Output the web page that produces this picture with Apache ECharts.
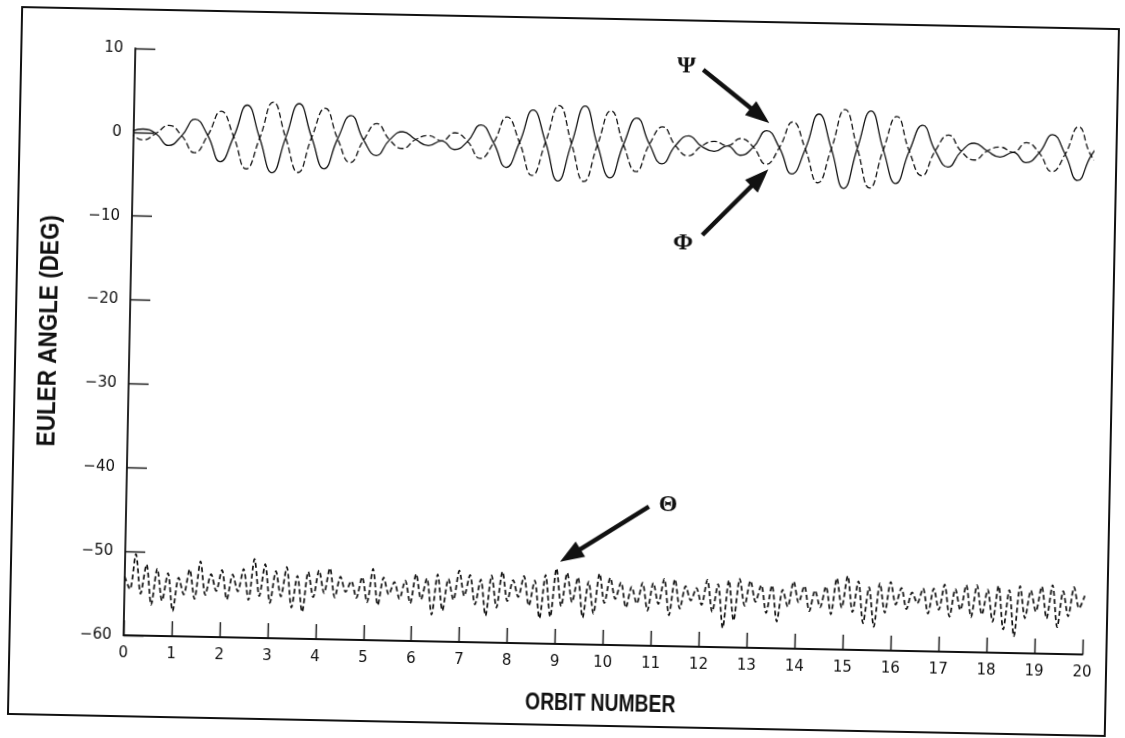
<!DOCTYPE html>
<html><head><meta charset="utf-8">
<script src="https://cdn.jsdelivr.net/npm/echarts@6/dist/echarts.min.js"></script>
<style>
html,body{margin:0;padding:0;background:#fff;overflow:hidden}
#wrap{width:1125px;height:738px;transform:rotate(1.15deg);transform-origin:50% 50%}
#chart{width:1125px;height:738px}
</style></head><body><div id="wrap"><div id="chart"></div></div>
<script>
// ---- data ----
const orbitStart = -0.08;  // orbit of first Psi/Phi reading
const orbitStep = 0.271;   // spacing (orbits) of the Psi/Phi readings
const phiVals = [0.0,0.4,-0.1,-1.5,-0.3,1.7,-0.2,-3.3,-0.3,3.5,-0.4,-4.5,-0.3,3.8,-0.2,-3.9,-0.3,2.5,-0.4,-2.2,-0.3,0.7,-0.2,-0.9,-0.3,
 -1.3,-0.3,1.7,-0.4,-3.3,-0.3,3.6,-0.2,-4.8,-0.3,4.2,-0.4,-4.3,-0.3,2.9,-0.2,-2.5,-0.3,0.9,-0.3,-0.9,-0.2,
 -1.3,-0.3,1.7,-0.3,-3.4,-0.4,3.8,-0.3,-5.0,-0.2,4.3,-0.3,-4.3,-0.4,2.7,-0.3,-2.2,-0.3,0.7,-0.2,-0.9,-0.3,
 -1.5,-0.3,1.9,-0.4,-3.5,-0.5,1.5];
const psiVals = [0.0,-0.9,-0.1,0.9,-0.3,-2.3,-0.2,2.7,-0.3,-4.1,-0.4,3.9,-0.3,-4.4,-0.2,3.3,-0.3,-3.1,-0.4,1.6,-0.3,-1.3,-0.2,0.3,-0.3,
 0.7,-0.3,-2.3,-0.4,2.7,-0.3,-4.2,-0.2,4.2,-0.3,-4.8,-0.4,3.7,-0.3,-3.5,-0.2,1.9,-0.3,-1.5,-0.3,0.3,-0.2,
 0.7,-0.3,-2.3,-0.3,2.8,-0.4,-4.4,-0.3,4.4,-0.2,-4.9,-0.3,3.7,-0.4,-3.3,-0.3,1.6,-0.3,-1.3,-0.2,0.3,-0.3,
 0.9,-0.3,-2.5,-0.4,2.9,-0.5,-2.0];
const thetaStep = 0.1125;  // spacing (orbits) of the Theta readings
const thetaVals = [-53.0,-54.5,-50.3,-55.0,-51.5,-56.3,-52.0,-55.8,-52.5,-57.0,
 -53.0,-55.0,-52.0,-55.5,-51.0,-55.0,-52.5,-54.5,-52.0,-55.5,
 -52.5,-54.5,-51.8,-55.5,-50.6,-55.0,-51.2,-55.8,-52.0,-55.0,
 -51.5,-56.3,-52.5,-56.8,-52.0,-55.0,-51.8,-54.5,-51.5,-55.0,
 -52.5,-54.3,-53.0,-55.0,-52.5,-55.5,-51.5,-55.8,-52.5,-54.5,
 -53.0,-55.0,-52.8,-55.5,-52.0,-55.0,-52.5,-56.8,-52.0,-56.3,
 -52.5,-55.0,-51.5,-54.5,-52.0,-55.5,-52.5,-56.8,-52.0,-55.8,
 -51.5,-55.0,-52.5,-54.5,-52.0,-55.5,-52.5,-57.0,-51.8,-56.8,
 -51.0,-55.5,-51.5,-55.0,-52.0,-56.8,-52.5,-56.3,-51.5,-55.0,
 -52.0,-54.5,-52.5,-55.5,-53.0,-55.0,-52.5,-55.8,-52.5,-55.0,
 -52.0,-56.3,-52.0,-55.5,-52.8,-54.5,-53.0,-55.0,-52.0,-55.8,
 -52.5,-57.7,-52.0,-56.8,-51.8,-55.0,-52.0,-54.5,-52.5,-55.8,
 -52.5,-56.8,-53.0,-55.0,-52.0,-54.5,-52.5,-55.5,-53.0,-55.0,
 -52.5,-55.8,-51.5,-55.0,-51.2,-55.5,-51.8,-56.8,-52.5,-57.2,
 -52.0,-55.5,-51.8,-54.5,-52.5,-55.0,-53.0,-54.3,-52.5,-55.5,
 -52.5,-55.0,-52.0,-55.8,-52.5,-55.0,-52.0,-55.8,-52.0,-55.5,
 -52.5,-56.3,-52.0,-57.2,-52.5,-58.0,-52.0,-55.8,-52.5,-55.0,
 -52.0,-55.8,-51.8,-56.8,-52.5,-55.5,-52.0,-54.5,-53.0];
const xTickValues = [0,1,2,3,4,5,6,7,8,9,10,11,12,13,14,15,16,17,18,19,20];
const yTickLabels = {'10':'10','0':'0','-10':'\u221210','-20':'\u221220','-30':'\u221230','-40':'\u221240','-50':'\u221250','-60':'\u221260'};

const phiData = phiVals.map((v,i)=>[orbitStart + i*orbitStep, v]);
const psiData = psiVals.map((v,i)=>[orbitStart + i*orbitStep, v]);
const thetaData = thetaVals.map((v,i)=>[i*thetaStep, v]);

const ink = '#111';
const labelFont = "'DejaVu Sans', sans-serif";
const titleFont = "'Liberation Sans', Arial, sans-serif";

const chart = echarts.init(document.getElementById('chart'), null, {renderer:'canvas'});
chart.setOption({
  animation:false,
  backgroundColor:'#fff',
  grid:{left:129, right:37, top:57, bottom:94, containLabel:false},
  xAxis:{type:'value', min:0, max:20, interval:1,
    axisLine:{onZero:false, lineStyle:{color:ink, width:1.8}},
    axisTick:{inside:true, length:15, lineStyle:{color:ink, width:1.4}},
    axisLabel:{margin:11, fontFamily:labelFont, fontSize:15, color:ink,
      formatter:v=> xTickValues.includes(v) ? String(v) : ''},
    splitLine:{show:false}},
  yAxis:{type:'value', min:-60, max:10, interval:10,
    axisLine:{onZero:false, lineStyle:{color:ink, width:1.8}},
    axisTick:{inside:true, length:20, lineStyle:{color:ink, width:1.4}},
    axisLabel:{margin:12, fontFamily:labelFont, fontSize:15, color:ink,
      formatter:v=> yTickLabels[String(v)] || String(v)},
    splitLine:{show:false}},
  series:[
    {name:'\u03A6', type:'line', data:phiData, smooth:0.5, showSymbol:false,
      lineStyle:{color:ink, width:1.3}},
    {name:'\u03A8', type:'line', data:psiData, smooth:0.5, showSymbol:false,
      lineStyle:{color:ink, width:1.3, type:[6,3]}},
    {name:'\u0398', type:'line', data:thetaData, smooth:0.3, showSymbol:false,
      lineStyle:{color:ink, width:1.7, type:[5,3]}}
  ]
});

// annotations (data coordinates)
const notes = [
  {text:'\u03A8', at:[11.5, 9.2], from:[11.85, 8.8], to:[13.25, 2.6]},
  {text:'\u03A6', at:[11.5, -11.9], from:[11.9, -10.9], to:[13.25, -2.9]},
  {text:'\u0398', at:[11.3, -43.2], from:[10.9, -43.4], to:[9.07, -50.2]}
];
const g = [];
g.push({type:'rect', shape:{x:15, y:18, width:1097, height:707},
  style:{fill:'none', stroke:ink, lineWidth:2}, silent:true});
// axis titles (condensed bold)
g.push({type:'text', x:607, y:704, scaleX:0.84, style:{text:'ORBIT NUMBER',
  font:"bold 23px " + titleFont, fill:ink, align:'center', verticalAlign:'middle'}, silent:true});
g.push({type:'text', x:49, y:341, rotation:Math.PI/2, scaleX:0.9, style:{text:'EULER ANGLE (DEG)',
  font:"bold 25px " + titleFont, fill:ink, align:'center', verticalAlign:'middle'}, silent:true});
notes.forEach(n=>{
  const p = chart.convertToPixel({gridIndex:0}, n.at);
  const a = chart.convertToPixel({gridIndex:0}, n.from);
  const b = chart.convertToPixel({gridIndex:0}, n.to);
  const dx=b[0]-a[0], dy=b[1]-a[1], L=Math.hypot(dx,dy), ux=dx/L, uy=dy/L;
  const hl=24, hw=9;
  const bx=b[0]-ux*hl, by=b[1]-uy*hl;
  g.push({type:'line', shape:{x1:a[0], y1:a[1], x2:bx+ux*2, y2:by+uy*2},
    style:{stroke:ink, lineWidth:4.5}, silent:true});
  g.push({type:'polygon', shape:{points:[[b[0],b[1]],[bx-uy*hw,by+ux*hw],[bx+uy*hw,by-ux*hw]]},
    style:{fill:ink}, silent:true});
  g.push({type:'text', x:p[0], y:p[1], style:{text:n.text, font:"bold 24px 'Liberation Serif', 'DejaVu Serif', serif",
    fill:ink, align:'center', verticalAlign:'middle'}, silent:true});
});
chart.setOption({graphic:g});
</script></body></html>
